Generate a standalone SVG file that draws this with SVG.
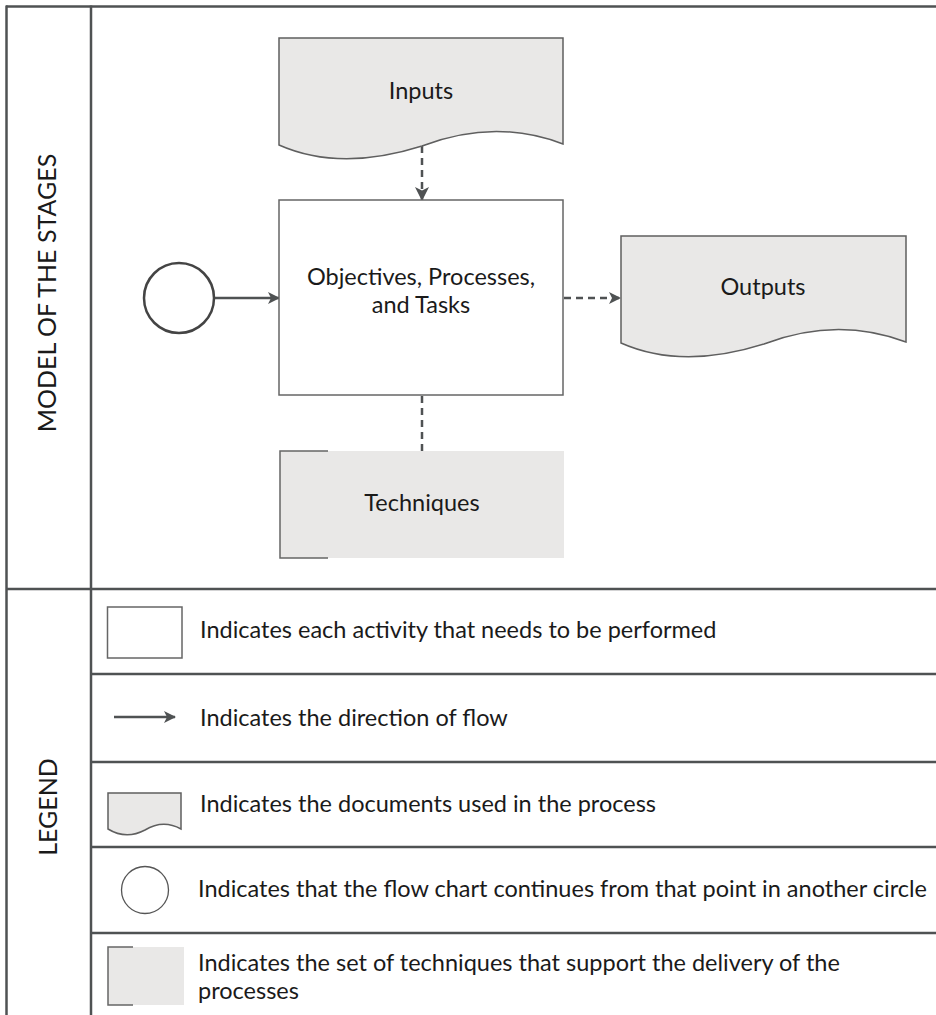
<svg xmlns="http://www.w3.org/2000/svg" width="936" height="1015" viewBox="0 0 936 1015">
  <style>
    text { font-family: Lato, "Noto Sans", "Liberation Sans", sans-serif; fill: #1a1a1a; font-size: 23.5px; }
    .side { font-size: 25px; }
    .frame { stroke: #4f5253; stroke-width: 2.5; fill: none; }
    .shape { stroke: #666; stroke-width: 1.5; }
    .doc { fill: #e9e8e7; stroke: #5f5f5f; stroke-width: 1.5; }
    .tech { fill: #e9e8e7; }
    .bracket { fill: none; stroke: #666; stroke-width: 1.5; }
    .flow { stroke: #4f5253; stroke-width: 2.5; fill: none; }
    .dash { stroke: #4f5253; stroke-width: 2.5; fill: none; stroke-dasharray: 7 5; }
    .mid { text-anchor: middle; }
  </style>
  <defs>
    <marker id="arrow" viewBox="0 0 12 12" markerWidth="12" markerHeight="12" refX="11" refY="6" orient="auto" markerUnits="userSpaceOnUse">
      <path d="M0,0 L12,6 L0,12 L3,6 z" fill="#4f5253"/>
    </marker>
    <marker id="arrowBig" viewBox="0 0 14 14" markerWidth="14" markerHeight="14" refX="13" refY="7" orient="auto" markerUnits="userSpaceOnUse">
      <path d="M0,0 L14,7 L0,14 L3.5,7 z" fill="#4f5253"/>
    </marker>
  </defs>

  <rect width="936" height="1015" fill="#ffffff"/>

  <!-- table frame -->
  <g id="frame">
    <line class="frame" x1="6" y1="6.5" x2="936" y2="6.5"/>
    <line class="frame" x1="6.5" y1="5.5" x2="6.5" y2="1015"/>
    <line class="frame" x1="91" y1="5.5" x2="91" y2="1015"/>
    <line class="frame" x1="6" y1="589" x2="936" y2="589"/>
    <line class="frame" x1="91" y1="674" x2="936" y2="674"/>
    <line class="frame" x1="91" y1="762" x2="936" y2="762"/>
    <line class="frame" x1="91" y1="847" x2="936" y2="847"/>
    <line class="frame" x1="91" y1="933" x2="936" y2="933"/>
    <text class="mid side" transform="translate(56,293) rotate(-90)">MODEL OF THE STAGES</text>
    <text class="mid side" transform="translate(57,807) rotate(-90)">LEGEND</text>
  </g>

  <!-- connectors -->
  <g id="connectors">
    <line class="flow" x1="214" y1="298" x2="279" y2="298" marker-end="url(#arrow)"/>
    <line class="dash" x1="422" y1="146" x2="422" y2="200" marker-end="url(#arrowBig)"/>
    <line class="dash" x1="564" y1="298" x2="620" y2="298" marker-end="url(#arrow)"/>
    <line class="dash" x1="422" y1="396" x2="422" y2="451"/>
  </g>

  <g id="start">
    <circle cx="179" cy="298" r="35" fill="#fff" stroke="#444" stroke-width="2.5"/>
  </g>

  <g id="inputs">
    <path class="doc" d="M279,38 H563 V144 Q495,118 422,146 Q340,172 279,145 Z"/>
    <text class="mid" x="421" y="99">Inputs</text>
  </g>

  <g id="activity">
    <rect class="shape" x="279" y="200" width="284" height="195" fill="#fff"/>
    <text class="mid" x="421" y="285">Objectives, Processes,</text>
    <text class="mid" x="421" y="313">and Tasks</text>
  </g>

  <g id="outputs">
    <path class="doc" d="M621,236 H906 V342 Q837,316 764,344 Q682,370 621,343 Z"/>
    <text class="mid" x="763" y="295">Outputs</text>
  </g>

  <g id="techniques">
    <rect class="tech" x="280" y="451" width="284" height="107"/>
    <path class="bracket" d="M328,451 H280 V558 H328"/>
    <text class="mid" x="422" y="511">Techniques</text>
  </g>

  <!-- legend entries -->
  <g id="legend-activity">
    <rect class="shape" x="107.5" y="607" width="74.5" height="51" fill="#fff"/>
    <text x="200" y="638">Indicates each activity that needs to be performed</text>
  </g>
  <g id="legend-flow">
    <line class="flow" x1="114" y1="717" x2="175" y2="717" marker-end="url(#arrow)"/>
    <text x="200" y="726">Indicates the direction of flow</text>
  </g>
  <g id="legend-document">
    <path class="doc" d="M108,793 H181 V829 Q163,819 145,830 Q126,840 108,829 Z"/>
    <text x="200" y="812">Indicates the documents used in the process</text>
  </g>
  <g id="legend-connector">
    <circle cx="145" cy="890" r="23.5" fill="#fff" stroke="#555" stroke-width="1.3"/>
    <text x="198" y="897">Indicates that the flow chart continues from that point in another circle</text>
  </g>
  <g id="legend-techniques">
    <rect class="tech" x="108" y="947" width="76" height="58"/>
    <path class="bracket" d="M133,947 H108 V1005 H133"/>
    <text x="198" y="971">Indicates the set of techniques that support the delivery of the</text>
    <text x="198" y="999">processes</text>
  </g>
</svg>
